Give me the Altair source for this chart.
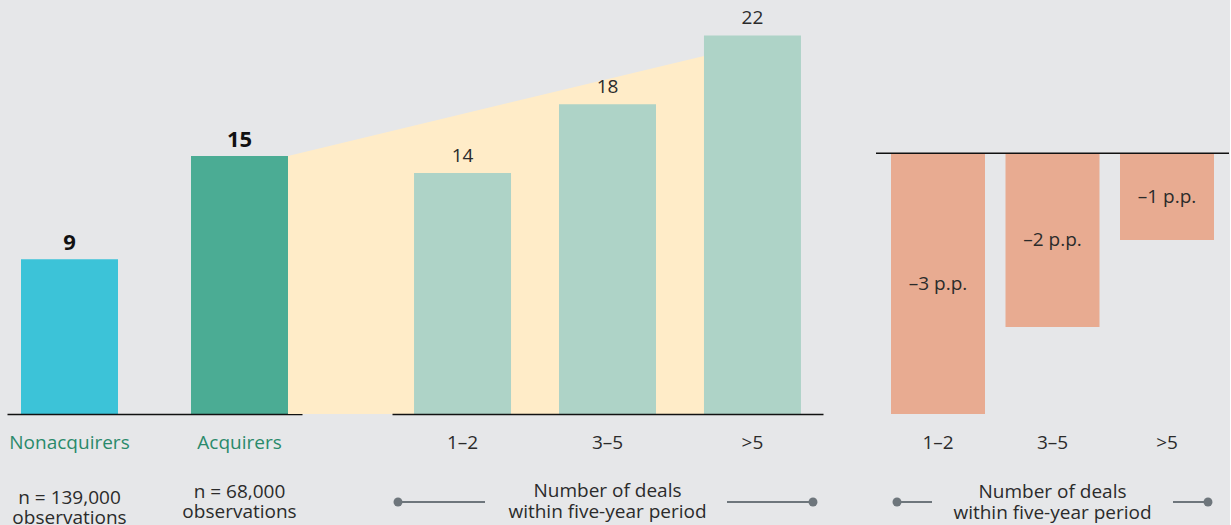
import altair as alt
import pandas as pd

# ---------------- data ----------------
group_labels = ["Nonacquirers", "Acquirers"]
group_values = [9, 15]
group_notes = ["n = 139,000\nobservations", "n = 68,000\nobservations"]

deal_bins = ["1–2", "3–5", ">5"]
deal_values = [14, 18, 22]
fan_values = [15, 20.8]        # top edge of the yellow fan (left end, right end)
delta_values = [-3, -2, -1]    # percentage-point differences

bracket_title = "Number of deals\nwithin five-year period"

# ---------------- style ----------------
FONT = "Open Sans"
BG = "#E6E7E9"
DARK = "#2B2B2B"
GREY = "#6E767C"
H = 413

df1 = pd.DataFrame({"group": group_labels, "value": group_values, "note": group_notes})
df2 = pd.DataFrame({"deals": deal_bins, "value": deal_values})
df_fan = pd.DataFrame({"t": [0, 1], "value": fan_values})
df3 = pd.DataFrame({"deals": deal_bins, "value": delta_values,
                    "label": [f"–{abs(v)} p.p." for v in delta_values]})
df_title = pd.DataFrame({"deals": ["3–5"], "title": [bracket_title]})

y12 = alt.Scale(domain=[0, 24], nice=False, zero=False)


def axis(color, domain=True):
    return alt.Axis(title=None, labelAngle=0, ticks=False, labelPadding=19,
                    labelFontSize=19, labelFont=FONT, labelColor=color,
                    domain=domain, domainColor="#111111", domainWidth=1.5,
                    grid=False, zindex=1)


# ---------------- panel 1 ----------------
x1s = alt.Scale(type="band", domain=group_labels, range=[0, 295],
                paddingInner=0.4294, paddingOuter=0.0824)
b1 = alt.Chart(df1)
bars1 = b1.mark_bar().encode(
    x=alt.X("group:N", scale=x1s, axis=axis("#2A8A6B")),
    y=alt.Y("value:Q", scale=y12, axis=None),
    color=alt.Color("group:N", scale=alt.Scale(domain=group_labels, range=["#3CC3D8", "#4BAC94"]), legend=None),
)
vals1 = b1.mark_text(font=FONT, fontSize=22, fontWeight="bold", color="#111111",
                     baseline="alphabetic", dy=-9).encode(
    x=alt.X("group:N", scale=x1s), y=alt.Y("value:Q", scale=y12), text="value:Q")
note_a = b1.transform_filter(alt.datum.group == group_labels[0]).mark_text(
    font=FONT, fontSize=19, color=DARK, baseline="alphabetic", lineBreak="\n", lineHeight=20).encode(
    x=alt.X("group:N", scale=x1s), y=alt.value(503), text="note:N")
note_b = b1.transform_filter(alt.datum.group == group_labels[1]).mark_text(
    font=FONT, fontSize=19, color=DARK, baseline="alphabetic", lineBreak="\n", lineHeight=20).encode(
    x=alt.X("group:N", scale=x1s), y=alt.value(497), text="note:N")
p1 = alt.layer(bars1, vals1, note_a, note_b).properties(width=332, height=H)

# ---------------- panel 2 ----------------
x2s = alt.Scale(type="band", domain=deal_bins, paddingInner=0.331, paddingOuter=0.152)
fan = alt.Chart(df_fan).mark_area(color="#FFECC8", opacity=1).encode(
    x=alt.X("t:Q", scale=alt.Scale(domain=[0, 1], range=[-104, 312]), axis=None),
    y=alt.Y("value:Q", scale=y12, axis=None),
)
b2 = alt.Chart(df2)
bars2 = b2.mark_bar(color="#AED3C7").encode(
    x=alt.X("deals:N", scale=x2s, axis=axis(DARK)),
    y=alt.Y("value:Q", scale=y12, axis=None),
)
vals2 = b2.mark_text(font=FONT, fontSize=19, color=DARK, baseline="alphabetic", dy=-11).encode(
    x=alt.X("deals:N", scale=x2s), y=alt.Y("value:Q", scale=y12), text="value:Q")
t2 = alt.Chart(df_title)
title2 = t2.mark_text(font=FONT, fontSize=19, color=DARK, baseline="alphabetic",
                      lineBreak="\n", lineHeight=21).encode(
    x=alt.X("deals:N", scale=x2s), y=alt.value(496), text="title:N")
line_style = dict(color=GREY, strokeWidth=2)
r2a = t2.mark_rule(**line_style).encode(x=alt.value(6), x2=alt.value(93), y=alt.value(501))
r2b = t2.mark_rule(**line_style).encode(x=alt.value(335), x2=alt.value(421), y=alt.value(501))
d2a = t2.mark_circle(color=GREY, size=80, opacity=1).encode(x=alt.value(6), y=alt.value(501))
d2b = t2.mark_circle(color=GREY, size=80, opacity=1).encode(x=alt.value(421), y=alt.value(501))
inner2 = alt.layer(bars2, vals2, title2, r2a, r2b, d2a, d2b)
p2 = alt.layer(fan, inner2).resolve_scale(x="independent").properties(width=431, height=H)

# ---------------- panel 3 ----------------
x3s = alt.Scale(type="band", domain=deal_bins, paddingInner=0.179, paddingOuter=0.131)
y3 = alt.Scale(domain=[-3, 1.75], nice=False, zero=False)
b3 = alt.Chart(df3)
bars3 = b3.mark_bar(color="#E8AB91").encode(
    x=alt.X("deals:N", scale=x3s, axis=axis(DARK, domain=False)),
    y=alt.Y("value:Q", scale=y3, axis=None),
    y2=alt.datum(0),
)
t3 = alt.Chart(df_title)
zero3 = t3.mark_rule(color="#111111", strokeWidth=1.5).encode(y=alt.Y(datum=0, scale=y3))
lab3 = b3.transform_calculate(mid="datum.value / 2").mark_text(
    font=FONT, fontSize=19, color=DARK, baseline="middle").encode(
    x=alt.X("deals:N", scale=x3s), y=alt.Y("mid:Q", scale=y3), text="label:N")
title3 = t3.mark_text(font=FONT, fontSize=19, color=DARK, baseline="alphabetic",
                      lineBreak="\n", lineHeight=21).encode(
    x=alt.X("deals:N", scale=x3s), y=alt.value(497), text="title:N")
r3a = t3.mark_rule(**line_style).encode(x=alt.value(21), x2=alt.value(56), y=alt.value(501))
r3b = t3.mark_rule(**line_style).encode(x=alt.value(297), x2=alt.value(332), y=alt.value(501))
d3a = t3.mark_circle(color=GREY, size=80, opacity=1).encode(x=alt.value(21), y=alt.value(501))
d3b = t3.mark_circle(color=GREY, size=80, opacity=1).encode(x=alt.value(332), y=alt.value(501))
p3 = alt.layer(bars3, zero3, lab3, title3, r3a, r3b, d3a, d3b).properties(width=353, height=H)

chart = alt.hconcat(p1, p2, p3, spacing=53, bounds="flush").properties(
    padding={"left": 7, "top": 1, "right": 0, "bottom": 0},
    background=BG,
).configure(font=FONT).configure_view(stroke=None)

chart.save("out.html", embed_options={"renderer": "svg", "actions": False})
